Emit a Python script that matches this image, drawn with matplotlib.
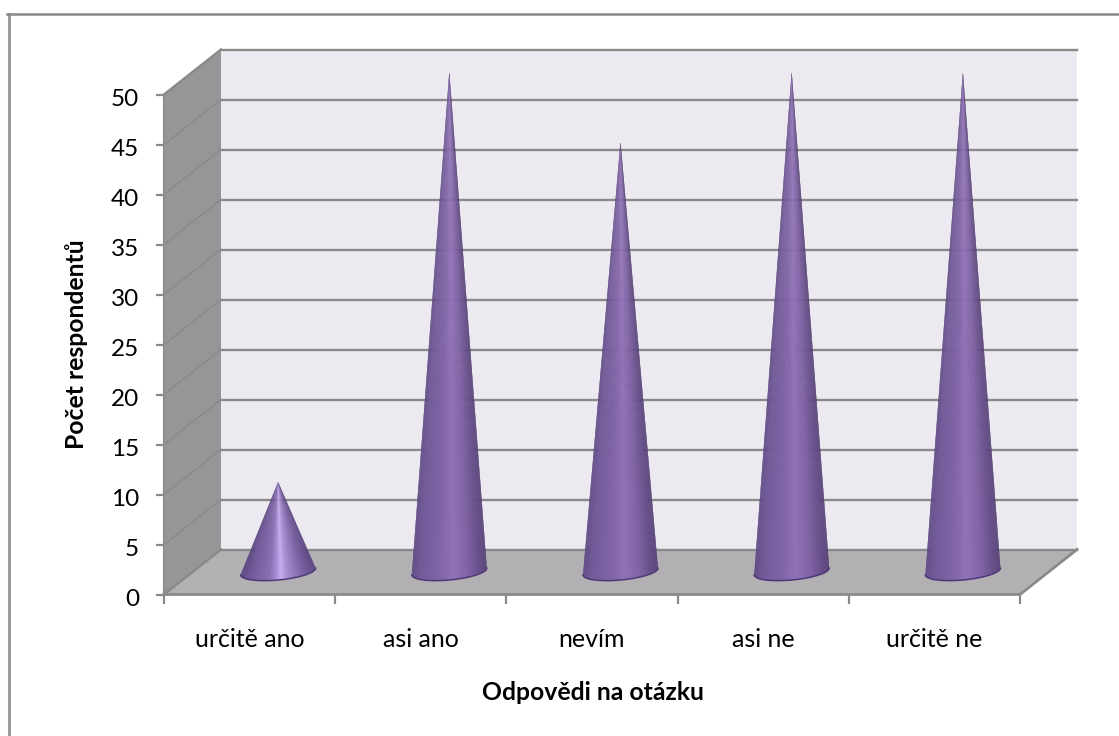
import matplotlib

matplotlib.use('Agg')

import matplotlib.pyplot as plt
import numpy as np
from matplotlib.collections import PolyCollection
from matplotlib.colors import LinearSegmentedColormap
from matplotlib.lines import Line2D
from matplotlib.patches import Polygon
from matplotlib.transforms import ScaledTranslation

kategorie = ['určitě ano', 'asi ano', 'nevím', 'asi ne', 'určitě ne']
pocty = [9, 50, 43, 50, 50]
y_ticks = [0, 5, 10, 15, 20, 25, 30, 35, 40, 45, 50]

W, H = 1119, 736
LINE = '#8a8a8a'

plt.rcParams['font.family'] = ['Lato', 'DejaVu Sans']

fig = plt.figure(figsize=(W / 100, H / 100), dpi=100)
# osa odpovida prednimu okraji 3D grafu
x0, x1, y_top, y_bot = 164, 1020, 94.5, 594.5
ax = fig.add_axes([x0 / W, 1 - y_bot / H, (x1 - x0) / W, (y_bot - y_top) / H])
ax.set_xlim(0, 5)
ax.set_ylim(0, 50)
ax.patch.set_visible(False)
for s in ax.spines.values():
    s.set_visible(False)

# hloubka 3D v jednotkach dat
px_x = (x1 - x0) / 5
px_y = (y_bot - y_top) / 50
dx = 57 / px_x
dy = 45 / px_y

# zadni stena, bocni stena, podlaha
ax.add_patch(Polygon([(dx, dy), (5 + dx, dy), (5 + dx, 50 + dy), (dx, 50 + dy)],
                     fc='#ECEAF0', ec='none', clip_on=False, zorder=1))
ax.add_patch(Polygon([(0, 0), (dx, dy), (dx, 50 + dy), (0, 50)],
                     fc='#979598', ec='none', clip_on=False, zorder=1))
ax.add_patch(Polygon([(0, 0), (5, 0), (5 + dx, dy), (dx, dy)],
                     fc='#B2B0B3', ec='none', clip_on=False, zorder=1))

# mrizka
for v in y_ticks:
    ax.plot([0, dx], [v, v + dy], color=LINE, lw=1.1, clip_on=False, zorder=2)
    ax.plot([dx, 5 + dx], [v + dy, v + dy], color=LINE, lw=1.7, clip_on=False, zorder=2)
ax.plot([0, 0], [0, 50], color='#8f8f8f', lw=1.6, clip_on=False, zorder=2)
ax.plot([0, dx], [50, 50 + dy], color=LINE, lw=1.7, clip_on=False, zorder=2)
ax.plot([0, dx], [0, dy], color=LINE, lw=1.7, clip_on=False, zorder=2)
ax.plot([0, 5, 5 + dx], [0, 0, dy], color=LINE, lw=2, clip_on=False, zorder=2)

# kuzely slozene z uzkych klinu od zakladny ke spicce
a_px, b_px, tilt = 37.5, 8.5, 0.09
for i, v in enumerate(pocty):
    cx = i + 0.5 + dx / 2
    cy = dy / 2
    tip = cy + v
    t = np.linspace(np.pi, 2 * np.pi, 121)
    ex = cx + a_px * np.cos(t) / px_x
    ey = cy + (b_px * np.sin(t) + a_px * tilt * np.cos(t) + 0.5) / px_y
    frac = (np.cos((t[:-1] + t[1:]) / 2) + 1) / 2

    if v < 20:
        barvy = [(0, '#5A4680'), (0.1, '#6F5798'), (0.38, '#8B70B4'), (0.47, '#A78DD4'),
                 (0.54, '#C6AEEC'), (0.62, '#A98FD4'), (0.8, '#8469AC'), (1, '#5C4682')]
    else:
        barvy = [(0, '#5E4984'), (0.1, '#715998'), (0.4, '#8367A9'), (0.55, '#9172B7'),
                 (0.75, '#8064A5'), (0.92, '#654E88'), (1, '#574278')]
    cmap = LinearSegmentedColormap.from_list('kuzel', barvy)
    # kliny se prekryvaji, aby mezi nimi nebyly svetle spary
    kliny = [[(ex[k], ey[k]), (ex[min(k + 2, 120)], ey[min(k + 2, 120)]), (cx, tip)]
             for k in range(len(frac))]
    ax.add_collection(PolyCollection(kliny, facecolors=cmap(frac), edgecolors='none',
                                     linewidths=0, clip_on=False, zorder=3))
    ax.plot(ex, ey, color='#4F3A78', lw=1.1, clip_on=False, zorder=4)

# popisky os
ax.set_yticks(y_ticks)
ax.set_xticks(range(6))
ax.set_xticklabels([])
ax.set_xticks(np.arange(5) + 0.5, kategorie, minor=True)
ax.tick_params(axis='y', length=5.5, width=1.6, color=LINE, labelsize=17.5, pad=12.5, labelcolor='black')
ax.tick_params(axis='x', which='major', length=6.5, width=1.6, color=LINE)
ax.tick_params(axis='x', which='minor', length=0, labelsize=18, pad=24, labelcolor='black')
posun = ScaledTranslation(0, -2 / 72, fig.dpi_scale_trans)
for lab in ax.get_yticklabels():
    lab.set_transform(lab.get_transform() + posun)

fig.text(593 / W, 1 - 692 / H, 'Odpovědi na otázku', ha='center', va='center',
         fontsize=17.8, fontweight='bold')
fig.text(76 / W, 1 - 344 / H, 'Počet respondentů', ha='center', va='center',
         rotation=90, fontsize=17.8, fontweight='bold')

# ramecek, vpravo a dole orizly
fig.add_artist(Line2D([8.5 / W, 8.5 / W], [0, 1 - 14 / H], color='#9a9a9a', lw=2.2))
fig.add_artist(Line2D([7 / W, 1], [1 - 14 / H, 1 - 14 / H], color='#888888', lw=1.8))

plt.savefig('out.png', dpi=100)
